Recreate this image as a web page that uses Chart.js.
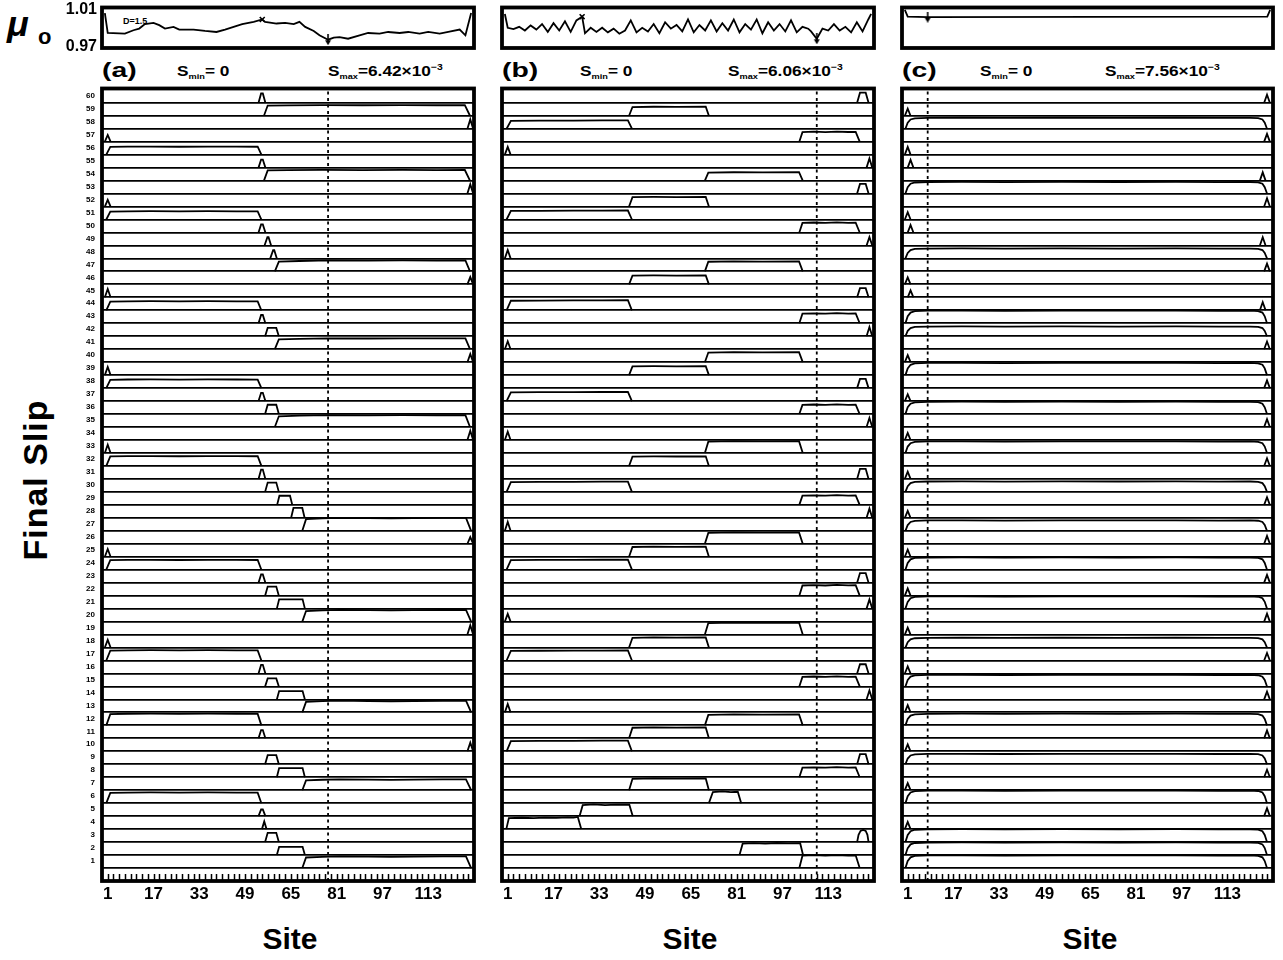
<!DOCTYPE html>
<html>
<head>
<meta charset="utf-8">
<title>Final slip versus site</title>
<script src="https://cdn.jsdelivr.net/npm/chart.js@4.4.1/dist/chart.umd.min.js"></script>
<style>
  html, body { margin: 0; padding: 0; background: #fff; }
  body { position: relative; width: 1283px; height: 960px; overflow: hidden;
         font-family: "Liberation Sans", Arial, Helvetica, sans-serif; font-weight: bold; color: #000; }
  canvas { position: absolute; }
  .txt { position: absolute; white-space: nowrap; line-height: 1; }
  .tag { font-size: 21px; transform: scaleX(1.35); transform-origin: 0 50%; }
  .slab { font-size: 15px; transform: scaleX(1.15); transform-origin: 0 50%; }
  .slab sub { font-size: 8px; vertical-align: -3px; }
  .slab sup { font-size: 9px; vertical-align: 6px; }
  .site { font-size: 30px; transform: translateX(-50%); }
</style>
</head>
<body>

<!-- axis titles and panel annotations -->
<div class="txt" style="left:7px;top:6px;font-size:36px;font-style:italic;">μ</div>
<div class="txt" style="left:38px;top:26px;font-size:22px;">o</div>
<div class="txt" style="left:123px;top:17px;font-size:9px;">D=1.5</div>

<div class="txt tag" style="left:102px;top:59px;">(a)</div>
<div class="txt tag" style="left:502px;top:59px;">(b)</div>
<div class="txt tag" style="left:902px;top:59px;">(c)</div>

<div class="txt slab" style="left:177px;top:63px;">S<sub>min</sub>= 0</div>
<div class="txt slab" style="left:328px;top:63px;">S<sub>max</sub>=6.42×10<sup>−3</sup></div>
<div class="txt slab" style="left:580px;top:63px;">S<sub>min</sub>= 0</div>
<div class="txt slab" style="left:728px;top:63px;">S<sub>max</sub>=6.06×10<sup>−3</sup></div>
<div class="txt slab" style="left:980px;top:63px;">S<sub>min</sub>= 0</div>
<div class="txt slab" style="left:1105px;top:63px;">S<sub>max</sub>=7.56×10<sup>−3</sup></div>

<div class="txt" style="left:35px;top:480px;font-size:34px;letter-spacing:1px;transform:translate(-50%,-50%) rotate(-90deg);">Final Slip</div>

<div class="txt site" style="left:290px;top:924px;">Site</div>
<div class="txt site" style="left:690px;top:924px;">Site</div>
<div class="txt site" style="left:1090px;top:924px;">Site</div>

<script>
// ---------------------------------------------------------------------------
// Data
// ---------------------------------------------------------------------------
const rowNumbers = [1,2,3,4,5,6,7,8,9,10,11,12,13,14,15,16,17,18,19,20,
  21,22,23,24,25,26,27,28,29,30,31,32,33,34,35,36,37,38,39,40,
  41,42,43,44,45,46,47,48,49,50,51,52,53,54,55,56,57,58,59,60];
const siteTicks = [1, 17, 33, 49, 65, 81, 97, 113];
const minorTickSites = [1,3,5,7,9,11,13,15,17,19,21,23,25,27,29,31,33,35,37,39,
  41,43,45,47,49,51,53,55,57,59,61,63,65,67,69,71,73,75,77,79,
  81,83,85,87,89,91,93,95,97,99,101,103,105,107,109,111,113,115,117,119,
  121,123,125,127];
const muTicks = [0.97, 1.01];

// largest final slip in each run (units of 1e-3)
const sMax = [6.42, 6.06, 7.56];

// friction coefficient mu_o along the fault, run (a)
const muSitesA = [0,1,7,10,12,14,17,19,21,24,26,31,35,39,42,45,48,52,55,56,
  60,63,66,68,70,73,75,78,80,82,85,89,92,96,99,103,106,110,113,117,120,124,126,128];
const muValuesA = [1.006,0.9843,0.9836,0.9873,0.9891,0.9939,0.9953,0.9928,0.9891,0.9909,
  0.9880,0.9880,0.9865,0.9854,0.9880,0.9909,0.9939,0.9964,0.9990,0.9964,
  0.9946,0.9953,0.9939,0.9964,0.9909,0.9865,0.9818,0.9770,0.9792,0.9799,
  0.9781,0.9818,0.9843,0.9836,0.9854,0.9843,0.9854,0.9836,0.9854,0.9836,
  0.9854,0.9880,0.9818,1.006];

// run (b)
const muSitesB = [0,1,3,5,7,9,11,13,15,17,19,21,23,25,27,28,30,32,34,36,
  38,40,42,44,46,48,50,52,54,56,58,60,62,64,66,68,70,72,74,76,
  78,80,82,84,86,88,90,92,94,96,98,100,102,104,106,107,109,111,113,115,
  117,119,121,123,125,127,128];
const muValuesB = [1.005,0.990,0.9885,0.991,0.987,0.9925,0.988,0.994,0.9855,0.995,
  0.987,0.997,0.9855,0.998,1.002,0.984,0.990,0.9855,0.990,0.985,
  0.989,0.9835,0.987,0.998,0.985,0.990,0.986,0.994,0.984,0.996,
  0.989,0.993,0.986,0.999,0.985,0.993,0.987,0.998,0.986,0.995,
  0.987,0.999,0.985,0.994,0.988,0.999,0.984,0.996,0.987,0.994,
  0.986,0.998,0.985,0.991,0.989,0.986,0.978,0.989,0.987,0.994,
  0.987,0.991,0.985,0.996,0.986,0.999,1.005];

// run (c)
const muSitesC = [0, 1, 8, 127, 128];
const muValuesC = [1.0095, 1.002, 1.0015, 1.002, 1.0095];

// sites of the strongest (x) and weakest (arrow) points of mu_o
const muMaxSite = [55, 27, null];
const muMinSite = [78, 109, 8];

// slip pulse shapes: [site, fraction of the event's peak slip]
const shapesA = {
  AL:  [[0,0],[1,1],[2,0]],
  AR:  [[126.7,0],[127.7,1],[128.7,0]],
  A55: [[53.7,0],[54.6,1],[55.2,1],[56.1,0]],
  A56: [[54.9,0],[55.7,1],[56.5,0]],
  A57: [[55.8,0],[56.8,1],[57.2,1],[58.1,0]],
  A59: [[57.8,0],[58.8,1],[59.2,1],[60.1,0]],
  T57: [[56,0],[56.9,1],[59.9,1],[60.8,0]],
  T61: [[60.2,0],[61,1],[64.7,1],[65.5,0]],
  T65: [[65.1,0],[65.9,1],[69,1],[69.8,0]],
  T60: [[60.1,0],[60.9,1],[69.1,1],[69.9,0]],
  PL:  [[0.5,0],[1.9,0.96],[8,0.99],[16,1],[26,0.98],[36,1],[46,0.99],[53.4,0.98],[54.7,0]],
  P56: [[55.6,0],[56.9,0.95],[64,0.97],[76,1],[90,0.98],[104,1],[116,0.98],[125.8,0.99],[127.6,0]],
  P60: [[59.4,0],[60.8,0.9],[68,0.95],[78,1],[92,0.98],[104,1],[116,0.99],[126,1],[127.6,0]],
  P70: [[69,0],[70.3,0.9],[76,0.96],[82,1],[92,0.97],[100,0.95],[108,0.97],[118,0.99],[126.2,1],[128,0]]
};
const shapesB = {
  AL:    [[0,0],[1,1],[2,0]],
  AR:    [[126.4,0],[127.4,1],[128.4,0]],
  T124:  [[123.1,0],[124.1,1],[126.1,1],[127.1,0]],
  T124r: [[123.1,0],[123.6,0.6],[124.3,0.92],[125.2,1],[126.1,0.92],[126.7,0.6],[127.1,0]],
  PL43:  [[0.6,0],[2.1,0.95],[12,0.97],[24,0.98],[34,0.99],[43,1],[44.4,0]],
  PL26:  [[0.5,0],[1.4,0.9],[6,0.93],[10,0.9],[14,0.95],[18,0.92],[22,0.97],[24,0.94],[25.5,1],[26.7,0]],
  P27:   [[26.1,0],[27.2,0.93],[31,1],[35,0.94],[39,0.98],[43.5,0.97],[44.7,0]],
  P44:   [[43.4,0],[44.6,0.97],[52,1],[60,0.98],[70.2,1],[71.3,0]],
  P71:   [[69.9,0],[71.1,0.96],[80,1],[90,0.98],[102.8,1],[104.1,0]],
  P72:   [[71.3,0],[72.7,0.95],[76,1],[79,0.94],[81.4,0.97],[82.6,0]],
  P83:   [[82,0],[83.1,0.93],[87,0.98],[91,0.94],[95,0.99],[99,0.95],[103.2,0.97],[104.2,0]],
  P104:  [[102.9,0],[104,0.95],[108,0.99],[112,0.95],[116,1],[120,0.96],[122.6,0.98],[124,0]]
};
const shapesC = {
  AL:   [[0,0],[1,1],[2,0]],
  A2:   [[1,0],[2,1],[3,0]],
  AR:   [[125.9,0],[126.9,1],[127.9,0]],
  A126: [[124.4,0],[125.4,1],[126.4,0]],
  PF:   [[0.2,0],[1,0.55],[2,0.84],[3.5,0.95],[8,0.99],[20,1],[35,0.98],[55,1],[75,0.99],
         [95,1],[110,0.98],[121,0.99],[123.8,0.96],[125.3,0.84],[126.1,0.55],[126.9,0]]
};

// events, row 1 (bottom) to row 60 (top): pulse shape and peak slip (1e-3)
const shapeKeysA = ['P70','T60','T57','A56','A55','PL','P70','T60','T57','AR',
  'A55','PL','P70','T60','T57','A55','PL','AL','AR','P70',
  'T60','T57','A55','PL','AL','AR','P70','T65','T61','T57',
  'A55','PL','AL','AR','P60','T57','A55','PL','AL','AR',
  'P60','T57','A55','PL','AL','AR','P60','A59','A57','A55',
  'PL','AL','AR','P56','A55','PL','AL','AR','P56','A55'];
const slipA = [5.8,4.1,4.6,3.8,3.3,5.3,5.4,4.5,4.5,4.3,
  4.1,5.8,5.8,4.1,4.0,4.3,5.1,3.8,4.6,5.8,
  4.6,4.5,4.1,4.9,3.8,3.3,6.42,4.9,4.5,4.6,
  4.6,4.9,4.1,4.6,5.9,4.6,4.1,4.3,4.0,4.1,
  5.4,4.1,4.1,4.5,4.1,3.6,5.4,4.1,4.1,4.0,
  4.1,3.3,4.6,5.3,4.0,4.0,3.3,4.6,5.3,4.6];

const shapeKeysB = ['P104','P83','T124r','PL26','P27','P72','P44','P104','T124','PL43',
  'P44','P71','AL','AR','P104','T124','PL43','P44','P71','AL',
  'AR','P104','T124','PL43','P44','P71','AL','AR','P104','PL43',
  'T124','P44','P71','AL','AR','P104','PL43','T124','P44','P71',
  'AL','AR','P104','PL43','T124','P44','P71','AL','AR','P104',
  'PL43','P44','T124','P71','AR','AL','P104','PL43','P44','T124'];
const slipB = [6.06,5.7,5.7,5.7,5.5,5.5,5.5,4.7,4.7,5.0,
  5.1,5.1,3.9,4.2,4.7,4.3,4.7,4.7,5.6,3.6,
  4.3,5.0,4.5,4.7,4.7,5.3,4.1,4.3,4.5,4.8,
  4.7,4.5,5.5,3.9,4.2,4.5,4.3,4.3,4.2,4.7,
  3.7,4.3,4.7,4.7,4.3,4.2,4.7,3.9,3.9,4.7,
  4.2,4.5,4.5,3.9,4.3,3.6,4.7,3.9,4.2,4.7];

const shapeKeysC = ['PF','PF','PF','AL','AR','PF','AL','AR','PF','AL',
  'AR','PF','AL','AR','PF','AL','AR','PF','AL','AR',
  'PF','AL','AR','PF','AL','AR','PF','AL','AR','PF',
  'AL','AR','PF','AL','AR','PF','AL','AR','PF','AL',
  'AR','PF','PF','A126','A2','AL','AR','PF','A126','A2',
  'AL','AR','PF','A126','A2','AL','AR','PF','AL','AR'];
const slipC = [7.4,7.4,7.56,4.2,4.6,7.4,4.1,4.4,6.1,4.0,
  4.6,6.8,4.2,4.5,6.8,4.1,4.4,5.7,4.0,4.6,
  7.2,4.2,4.5,7.2,4.1,4.6,6.1,4.0,4.4,6.1,
  4.2,4.5,6.8,4.1,4.6,7.2,4.0,4.5,7.2,4.1,
  4.5,5.7,7.4,4.7,4.1,4.1,4.5,5.8,4.8,4.3,
  4.3,4.8,6.8,4.8,4.5,4.5,4.5,6.4,4.1,4.7];

// ---------------------------------------------------------------------------
// Layout (page pixels)
// ---------------------------------------------------------------------------
const PANEL_LEFT = [102, 502, 902];
const PANEL_WIDTH = [372, 372, 371];
const AXIS_W = 45, RIGHT_PAD = 8;
const ROW_TOP = 61.1;   // top of the slip axis, in rows
const LINE_W = 1.8;

Chart.defaults.font.family = '"Liberation Sans", Arial, Helvetica, sans-serif';
Chart.defaults.color = '#000';

function makeCanvas(left, top, width, height) {
  const c = document.createElement('canvas');
  c.width = width; c.height = height;
  c.style.left = left + 'px'; c.style.top = top + 'px';
  c.style.width = width + 'px'; c.style.height = height + 'px';
  document.body.appendChild(c);
  return c;
}

// thick box around the plot area, optional short inward site ticks at the bottom
function makeFrame(withTicks) {
  return {
    id: 'frame',
    afterDraw(chart) {
      const { ctx, chartArea: a, scales } = chart;
      ctx.save();
      ctx.strokeStyle = '#000';
      if (withTicks) {
        ctx.lineWidth = 1.5;
        ctx.beginPath();
        minorTickSites.forEach(s => {
          const px = Math.round(scales.x.getPixelForValue(s)) + 0.5;
          ctx.moveTo(px, a.bottom);
          ctx.lineTo(px, a.bottom - 7);
        });
        ctx.stroke();
      }
      ctx.lineWidth = 3.8;
      ctx.strokeRect(a.left, a.top, a.right - a.left, a.bottom - a.top);
      ctx.restore();
    }
  };
}

// downward arrow used to flag the weakest site
function arrowGlyph() {
  const c = document.createElement('canvas');
  c.width = 8; c.height = 11;
  const g = c.getContext('2d');
  g.strokeStyle = '#000'; g.fillStyle = '#000'; g.lineWidth = 1.6;
  g.beginPath(); g.moveTo(4, 0); g.lineTo(4, 7); g.stroke();
  g.beginPath(); g.moveTo(1, 6); g.lineTo(7, 6); g.lineTo(4, 11); g.closePath(); g.fill();
  return c;
}
const ARROW = arrowGlyph();

const baseOptions = () => ({
  responsive: false, animation: false, devicePixelRatio: 1, events: [],
  plugins: { legend: { display: false }, tooltip: { enabled: false } }
});

function drawSlipPanel(p, shapes, keys, slips, withRowLabels) {
  const left = PANEL_LEFT[p], width = PANEL_WIDTH[p];
  const canvas = makeCanvas(left - AXIS_W, 80, AXIS_W + width + RIGHT_PAD, 830);
  const datasets = keys.map((key, i) => ({
    data: shapes[key].map(([site, frac]) => ({ x: site, y: rowNumbers[i] + frac * slips[i] / sMax[p] })),
    borderColor: '#000', borderWidth: LINE_W, pointRadius: 0, showLine: true, fill: false
  }));
  datasets.push({
    data: [{ x: muMinSite[p], y: 0 }, { x: muMinSite[p], y: ROW_TOP }],
    borderColor: '#000', borderWidth: 1.8, borderDash: [3, 3.5],
    pointRadius: 0, showLine: true, fill: false
  });
  const opts = baseOptions();
  opts.layout = { padding: { left: 0, top: 8.5, right: RIGHT_PAD, bottom: 0 } };
  opts.scales = {
    x: {
      type: 'linear', min: -1, max: 129,
      afterBuildTicks: ax => { ax.ticks = siteTicks.map(v => ({ value: v })); },
      afterFit: ax => { ax.height = 29; ax.paddingLeft = 0; ax.paddingRight = 0; },
      grid: { display: false, drawTicks: false },
      border: { display: false },
      ticks: { color: '#000', padding: 3, maxRotation: 0, autoSkip: false,
               font: { size: 17, weight: 'bold' } }
    },
    y: {
      min: 0, max: ROW_TOP,
      afterBuildTicks: ax => { ax.ticks = rowNumbers.map(v => ({ value: v })); },
      afterFit: ax => { ax.width = AXIS_W; ax.paddingTop = 0; ax.paddingBottom = 0; },
      grid: { color: '#000', lineWidth: LINE_W, drawTicks: false },
      border: { display: false },
      ticks: { display: withRowLabels, color: '#000', padding: 7, labelOffset: -7,
               autoSkip: false, font: { size: 8, weight: 'bold' } }
    }
  };
  new Chart(canvas, { type: 'scatter', data: { datasets }, options: opts, plugins: [makeFrame(true)] });
}

function drawMuPanel(p, sites, values, withLabels) {
  const left = PANEL_LEFT[p], width = PANEL_WIDTH[p];
  const canvas = makeCanvas(left - AXIS_W, 0, AXIS_W + width + RIGHT_PAD, 60);
  const datasets = [{
    data: sites.map((s, i) => ({ x: s, y: values[i] })),
    borderColor: '#000', borderWidth: LINE_W, pointRadius: 0, showLine: true, fill: false
  }];
  if (muMaxSite[p] !== null) {
    const s = muMaxSite[p];
    datasets.push({
      data: [{ x: s, y: values[sites.indexOf(s)] }],
      pointStyle: 'crossRot', pointRadius: 3.5, pointBorderWidth: 1.6,
      pointBorderColor: '#000', showLine: false
    });
  }
  const m = muMinSite[p];
  datasets.push({
    data: [{ x: m, y: values[sites.indexOf(m)] }],
    pointStyle: ARROW, pointRadius: 5, showLine: false
  });
  const opts = baseOptions();
  opts.layout = { padding: { left: 0, top: 7.5, right: RIGHT_PAD, bottom: 12 } };
  opts.scales = {
    x: { type: 'linear', min: -1, max: 129, display: false },
    y: {
      min: 0.968, max: 1.012,
      afterBuildTicks: ax => { ax.ticks = muTicks.map(v => ({ value: v })); },
      afterFit: ax => { ax.width = AXIS_W; ax.paddingTop = 0; ax.paddingBottom = 0; },
      grid: { display: false, drawTicks: false },
      border: { display: false },
      ticks: { display: withLabels, color: '#000', padding: 5,
               callback: v => v.toFixed(2), font: { size: 16, weight: 'bold' } }
    }
  };
  new Chart(canvas, { type: 'scatter', data: { datasets }, options: opts, plugins: [makeFrame(false)] });
}

drawMuPanel(0, muSitesA, muValuesA, true);
drawMuPanel(1, muSitesB, muValuesB, false);
drawMuPanel(2, muSitesC, muValuesC, false);

drawSlipPanel(0, shapesA, shapeKeysA, slipA, true);
drawSlipPanel(1, shapesB, shapeKeysB, slipB, false);
drawSlipPanel(2, shapesC, shapeKeysC, slipC, false);
</script>
</body>
</html>
